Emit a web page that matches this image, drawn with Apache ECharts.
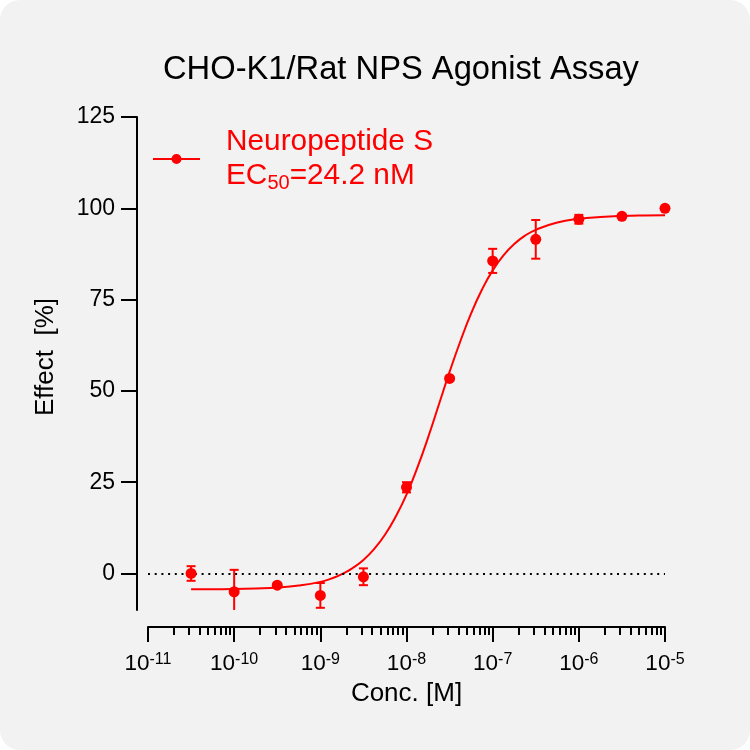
<!DOCTYPE html>
<html>
<head>
<meta charset="utf-8">
<script src="https://cdn.jsdelivr.net/npm/echarts@6/dist/echarts.min.js"></script>
<style>
html, body { margin: 0; padding: 0; background: #fff; }
#chart { width: 750px; height: 750px; background: #f2f2f2; border-radius: 20px; }
</style>
</head>
<body>
<div id="chart"></div>
<script>
// measured points (x = log10 of concentration in M)
const logConc   = [-10.5, -10, -9.5, -9, -8.5, -8, -7.5, -7, -6.5, -6, -5.5, -5];
const effect    = [0, -5, -3.2, -6, -0.9, 23.6, 53.4, 85.6, 91.5, 97, 97.8, 100];
const effectErr = [2, 6, 0.4, 3.4, 2.3, 1.4, 0.4, 3.3, 5.3, 1.2, 0.4, 0.3];

// fitted curve
const fitLogConc = [-10.5, -10.25, -10, -9.75, -9.5, -9.25, -9, -8.875, -8.75, -8.625, -8.5,
                    -8.375, -8.25, -8.125, -8, -7.875, -7.75, -7.625, -7.5, -7.375, -7.25,
                    -7.125, -7, -6.875, -6.75, -6.625, -6.5, -6.25, -6, -5.75, -5.5, -5.25, -5];
const fitEffect  = [-4.35, -4.3, -4.25, -4.1, -3.85, -3.3, -2.3, -1.4, -0.2, 1.5, 3.7,
                    6.7, 10.6, 15.6, 21.6, 28.9, 37.2, 46.2, 55.2, 63.6, 71.2,
                    77.7, 83.0, 87.1, 90.2, 92.5, 94.1, 96.1, 97.1, 97.6, 97.9, 98.05, 98.1];

const xTicks = [-11, -10, -9, -8, -7, -6, -5];
const yTicks = [0, 25, 50, 75, 100, 125];
const minorSteps = [2, 3, 4, 5, 6, 7, 8, 9];

const minorTicks = [];
xTicks.slice(0, -1).forEach(d => minorSteps.forEach(k => minorTicks.push(d + Math.log10(k))));

const RED = '#ff0000';
const FONT = 'Liberation Sans, Arial, sans-serif';

const chart = echarts.init(document.getElementById('chart'));

const option = {
  animation: false,
  title: {
    text: 'CHO-K1/Rat NPS Agonist Assay',
    left: 158, top: 48,
    textStyle: { fontFamily: FONT, fontSize: 32.7, fontWeight: 'normal', color: '#000' }
  },
  legend: {
    left: 148, top: 122,
    itemWidth: 47, itemHeight: 10,
    data: [{
      name: 'Neuropeptide S',
      icon: 'path://M0,4.1H47V5.9H0Z M18.5,5a5,5 0 1,1 10,0a5,5 0 1,1 -10,0Z',
      itemStyle: { color: RED }
    }],
    formatter: () => '{p|Neuropeptide S}\n{p|EC}{sub|50}{t|=24.2 nM}',
    textStyle: {
      rich: {
        p: { fontFamily: FONT, fontSize: 29.8, color: RED, padding: [0, 0, 0, 21], lineHeight: 34 },
        t: { fontFamily: FONT, fontSize: 29.8, color: RED, lineHeight: 34 },
        sub: { fontFamily: FONT, fontSize: 20, color: RED, verticalAlign: 'bottom', lineHeight: 26 }
      }
    }
  },
  grid: { left: 148, right: 85, top: 117, bottom: 140 },
  xAxis: [{
    type: 'value', min: -11, max: -5, interval: 1,
    position: 'bottom', offset: 17,
    name: 'Conc. [M]', nameLocation: 'middle', nameGap: 46,
    nameTextStyle: { fontFamily: FONT, fontSize: 26, color: '#000' },
    axisLine: { onZero: false, lineStyle: { color: '#000', width: 2 } },
    axisTick: { length: 15, lineStyle: { color: '#000', width: 2 } },
    axisLabel: {
      margin: 25,
      formatter: v => '{b|10}{s|' + v + '}',
      rich: {
        b: { fontFamily: FONT, fontSize: 22.5, color: '#000', lineHeight: 24 },
        s: { fontFamily: FONT, fontSize: 16, color: '#000', verticalAlign: 'top', lineHeight: 16 }
      }
    },
    splitLine: { show: false }
  }, {
    type: 'value', min: -11, max: -5,
    position: 'bottom', offset: 17,
    axisLine: { show: false, onZero: false },
    axisTick: { length: 8, customValues: minorTicks, lineStyle: { color: '#000', width: 2 } },
    axisLabel: { show: false },
    splitLine: { show: false }
  }],
  yAxis: {
    type: 'value', min: -10, max: 125,
    offset: 11,
    name: 'Effect  [%]', nameLocation: 'middle', nameGap: 78,
    nameTextStyle: { fontFamily: FONT, fontSize: 26, color: '#000', padding: [0, 0, 0, 13] },
    axisLine: { show: true, onZero: false, lineStyle: { color: '#000', width: 2 } },
    axisTick: { show: true, length: 16, customValues: yTicks, lineStyle: { color: '#000', width: 2 } },
    axisLabel: { margin: 22, customValues: yTicks, fontFamily: FONT, fontSize: 23, color: '#000' },
    splitLine: { show: false }
  },
  series: [{
    name: 'Neuropeptide S',
    type: 'line',
    data: fitLogConc.map((x, i) => [x, fitEffect[i]]),
    smooth: true,
    showSymbol: false,
    symbol: 'none',
    lineStyle: { color: RED, width: 2 },
    itemStyle: { color: RED },
    z: 3,
    markLine: {
      silent: true,
      symbol: 'none',
      label: { show: false },
      lineStyle: { color: '#000', width: 2, type: [2, 4.7] },
      data: [{ yAxis: 0 }]
    }
  }, {
    name: 'error',
    type: 'custom',
    clip: true,
    data: logConc.map((x, i) => [x, effect[i] - effectErr[i], effect[i] + effectErr[i]]),
    renderItem: (params, api) => {
      const lo = api.coord([api.value(0), api.value(1)]);
      const hi = api.coord([api.value(0), api.value(2)]);
      const w = 4.5;
      const st = { stroke: RED, lineWidth: 2, fill: null };
      return {
        type: 'group',
        children: [
          { type: 'line', shape: { x1: lo[0], y1: lo[1], x2: hi[0], y2: hi[1] }, style: st },
          { type: 'line', shape: { x1: lo[0] - w, y1: lo[1], x2: lo[0] + w, y2: lo[1] }, style: st },
          { type: 'line', shape: { x1: hi[0] - w, y1: hi[1], x2: hi[0] + w, y2: hi[1] }, style: st }
        ]
      };
    },
    z: 4
  }, {
    name: 'points',
    type: 'scatter',
    data: logConc.map((x, i) => [x, effect[i]]),
    symbol: 'circle',
    symbolSize: 11,
    itemStyle: { color: RED, opacity: 1 },
    z: 5
  }]
};

chart.setOption(option);
</script>
</body>
</html>
